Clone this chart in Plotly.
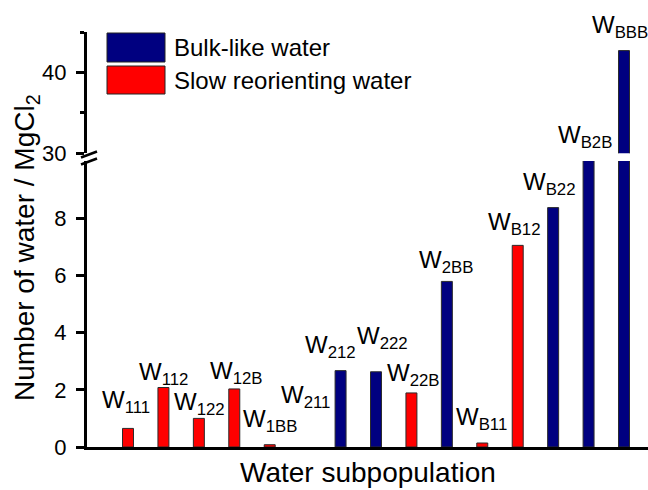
import plotly.graph_objects as go

# Water subpopulations around MgCl2 (subscript codes) and their counts
subpops = ["111", "112", "122", "12B", "1BB", "211", "212", "222",
           "22B", "2BB", "B11", "B12", "B22", "B2B", "BBB"]
counts = [0.65, 2.08, 1.00, 2.03, 0.08, 0.00, 2.67, 2.63,
          1.89, 5.79, 0.14, 7.05, 8.37, 20.0, 42.7]
kinds = ["slow", "slow", "slow", "slow", "slow", "bulk", "bulk", "bulk",
         "slow", "bulk", "slow", "slow", "bulk", "bulk", "bulk"]

series_names = {"bulk": "Bulk-like water", "slow": "Slow reorienting water"}
series_colors = {"bulk": "#000080", "slow": "#FF0000"}

y_ticks_low = [0, 2, 4, 6, 8]
y_ticks_high = [30, 40]
low_range = [0, 10]
high_range = [30, 45]

# label nudges (pixels) so the subpopulation names sit clear of the bars
label_dx = [-2, 0, 1, 2, 0, 0, -10, 6, 2, -1, -1, -3, -4, -4, -4]
label_dy = [4, -8, -8, -6, 2, 28, 2, 12, -4, -3, 2, -1, 2, 2, 2]

FONT = "Liberation Sans, Arial, Helvetica, sans-serif"
W, H = 648, 490
ML, MR, MT, MB = 87, 0, 32, 43
PW, PH = W - ML - MR, H - MT - MB

low_top = (447 - 161) / PH
high_bottom = (447 - 153.3) / PH


def px_x(px):
    return (px - ML) / PW


def px_y(py):
    return (H - MB - py) / PH


fig = go.Figure()

bar_width = 0.31
for kind in ["bulk", "slow"]:
    ys = [c if k == kind else None for c, k in zip(counts, kinds)]
    # zero-height bars get no outline
    edge = [1 if (v is not None and v > 0) else 0 for v in ys]
    for xa, ya in [("x", "y"), ("x2", "y2")]:
        fig.add_trace(go.Bar(
            x=subpops, y=ys, width=bar_width, name=series_names[kind],
            marker=dict(color=series_colors[kind],
                        line=dict(color="#2b2b2b", width=edge)),
            xaxis=xa, yaxis=ya, showlegend=False,
        ))

# subpopulation labels above each bar (x given as category index)
annotations = []
for i, (name, c) in enumerate(zip(subpops, counts)):
    if c >= high_range[0]:
        yref, yv = "y2", c
    else:
        yref, yv = "y", min(c, low_range[1])
    annotations.append(dict(
        x=i, y=yv, xref="x", yref=yref,
        text=f"W<sub>{name}</sub>", showarrow=False,
        xanchor="center", yanchor="bottom",
        xshift=label_dx[i], yshift=5 + label_dy[i],
        font=dict(family=FONT, size=24, color="black"),
    ))

# axis titles
annotations.append(dict(
    x=px_x(26), y=px_y(248), xref="paper", yref="paper",
    text="Number of water / MgCl<sub>2</sub>", textangle=-90,
    showarrow=False, xanchor="center", yanchor="middle",
    font=dict(family=FONT, size=28, color="black"),
))
annotations.append(dict(
    x=px_x(368), y=px_y(490), xref="paper", yref="paper",
    text="Water subpopulation", showarrow=False,
    xanchor="center", yanchor="bottom",
    font=dict(family=FONT, size=28, color="black"),
))

# legend drawn as large swatches
shapes = []
legend_rows = [("bulk", 33, 62), ("slow", 66, 94)]
for kind, top, bottom in legend_rows:
    shapes.append(dict(
        type="rect", xref="paper", yref="paper",
        x0=px_x(107), x1=px_x(165), y0=px_y(bottom), y1=px_y(top),
        fillcolor=series_colors[kind], line=dict(color="#222222", width=1),
    ))
    annotations.append(dict(
        x=px_x(172), y=px_y((top + bottom) / 2), xref="paper", yref="paper",
        text=series_names[kind], showarrow=False,
        xanchor="left", yanchor="middle",
        font=dict(family=FONT, size=24, color="black"),
    ))

# axis break marks
for yc in (154.5, 161.5):
    shapes.append(dict(
        type="line", xref="paper", yref="paper",
        x0=px_x(81), y0=px_y(yc + 3), x1=px_x(97), y1=px_y(yc - 3),
        line=dict(color="black", width=2.5),
    ))

cat_range = [-(128 - ML) / 35.43, 14 + (648 - 624) / 35.43]

axis_font = dict(family=FONT, size=22, color="black")
fig.update_layout(
    width=W, height=H,
    margin=dict(l=ML, r=MR, t=MT, b=MB, autoexpand=False),
    paper_bgcolor="white", plot_bgcolor="white",
    barmode="overlay",
    font=dict(family=FONT, color="black"),
    xaxis=dict(
        domain=[0, 1], anchor="y", type="category",
        categoryorder="array", categoryarray=subpops,
        range=cat_range, showticklabels=False, ticks="",
        showline=True, linecolor="black", linewidth=3,
        showgrid=False, zeroline=False,
    ),
    xaxis2=dict(
        domain=[0, 1], anchor="y2", matches="x", type="category",
        showticklabels=False, ticks="", showline=False,
        showgrid=False, zeroline=False,
    ),
    yaxis=dict(
        domain=[0, low_top], anchor="x", range=low_range,
        tickvals=y_ticks_low, ticks="outside", ticklen=8, tickwidth=2.5,
        tickcolor="black", showline=True, linecolor="black", linewidth=3,
        showgrid=False, zeroline=False, tickfont=axis_font,
        ticklabelstandoff=5,
    ),
    yaxis2=dict(
        domain=[high_bottom, 1], anchor="x2", range=high_range,
        tickvals=y_ticks_high, ticks="outside", ticklen=8, tickwidth=2.5,
        tickcolor="black", showline=True, linecolor="black", linewidth=3,
        showgrid=False, zeroline=False, tickfont=axis_font,
        ticklabelstandoff=5,
        minor=dict(tickvals=[35, 45], ticks="outside", ticklen=4,
                   tickwidth=2.5, tickcolor="black"),
    ),
    annotations=annotations,
    shapes=shapes,
)

fig.write_html("out.html")
